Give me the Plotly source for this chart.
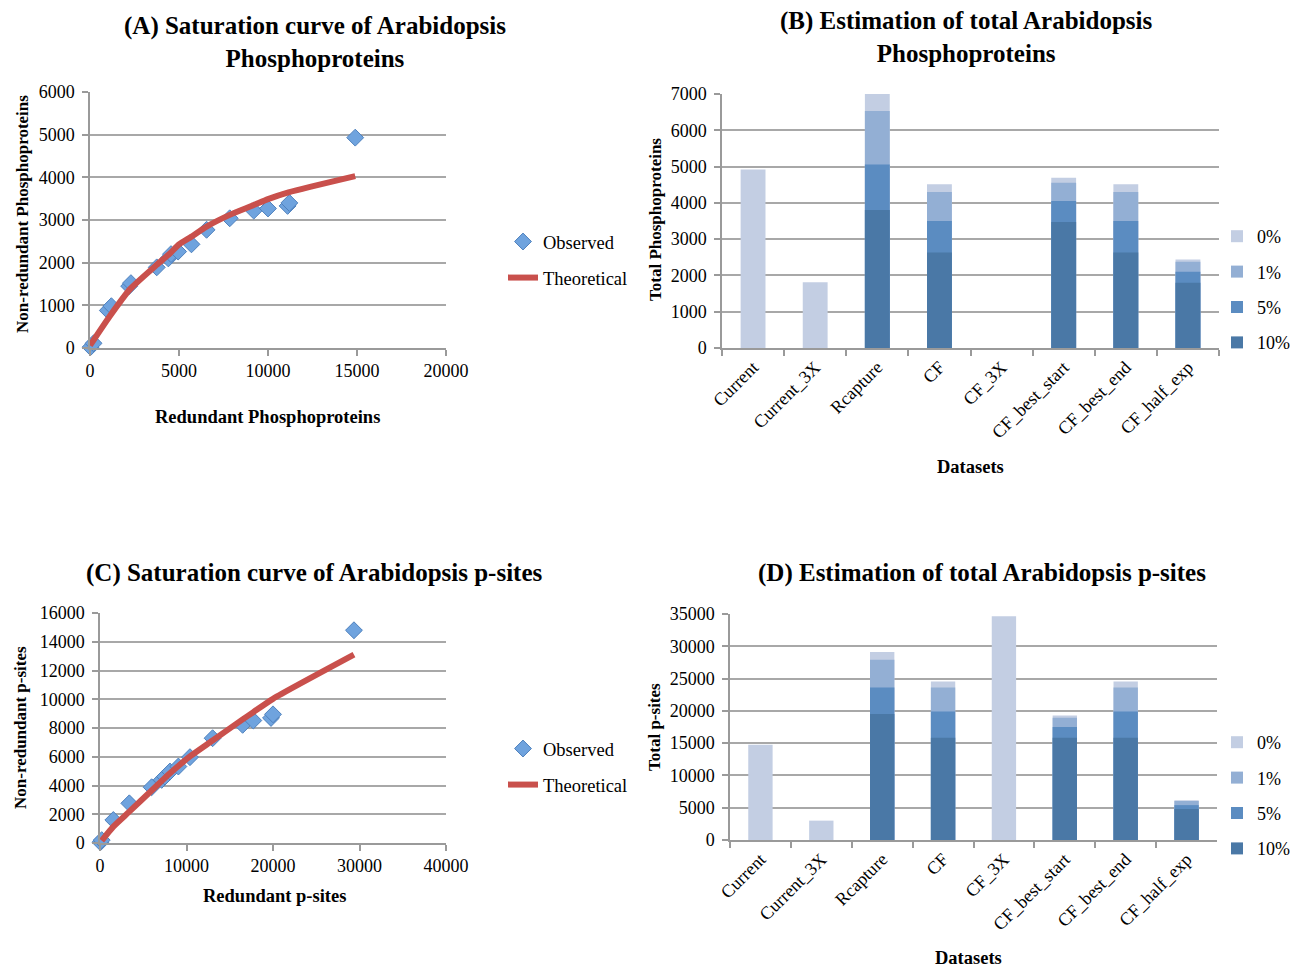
import plotly.graph_objects as go

# The page body adds an 8 px offset; the figure is sized to the remaining area
OFF = 8
W, H = 1301 - OFF, 968 - OFF
FONT = "Liberation Serif"

# ---------------- data ----------------
# (A) Phosphoproteins saturation
obsA_x = [30, 200, 1000, 1200, 2200, 2300, 3750, 4400, 4550, 4950, 5700, 6550, 7850, 9200, 10000, 11100, 11200, 14900]
obsA_y = [20, 110, 880, 980, 1450, 1520, 1890, 2100, 2200, 2260, 2430, 2770, 3040, 3220, 3270, 3330, 3400, 4930]
theoA_x = [0, 1100, 2250, 3750, 4500, 5000, 5700, 6550, 7850, 9200, 10000, 11150, 14900]
theoA_y = [60, 740, 1380, 1950, 2220, 2430, 2610, 2845, 3120, 3350, 3490, 3650, 4030]

# (C) p-sites saturation
obsC_x = [50, 200, 1540, 3390, 5970, 7130, 7510, 8090, 9060, 10400, 13020, 16490, 17720, 19770, 20000, 29360]
obsC_y = [50, 200, 1600, 2760, 3880, 4390, 4620, 4970, 5320, 5970, 7290, 8220, 8520, 8700, 8950, 14800]
theoC_x = [200, 1540, 3390, 5970, 8090, 10400, 13020, 16490, 17720, 20000, 29360]
theoC_y = [160, 1140, 2180, 3650, 4850, 6020, 7130, 8600, 9100, 10030, 13100]

# (B)/(D) categories
datasets = ["Current", "Current_3X", "Rcapture", "CF", "CF_3X", "CF_best_start", "CF_best_end", "CF_half_exp"]
levels = ["0%", "1%", "5%", "10%"]

B_0 = [4920, 1810, 7000, 4510, None, 4690, 4510, 2440]
B_1 = [None, None, 6530, 4300, None, 4555, 4300, 2375]
B_5 = [None, None, 5060, 3500, None, 4050, 3500, 2100]
B_10 = [None, None, 3800, 2630, None, 3470, 2630, 1800]

D_0 = [14750, 3000, 29100, 24550, 34650, 19300, 24550, 6150]
D_1 = [None, None, 27900, 23600, None, 18950, 23600, 6050]
D_5 = [None, None, 23600, 19900, None, 17500, 19900, 5400]
D_10 = [None, None, 19500, 15850, None, 15850, 15850, 4800]

# ---------------- styles ----------------
level_colors = ["#C3CEE3", "#93AFD4", "#5B8CC1", "#4A78A6"]
obs_color = "#6FA3DE"
obs_edge = "#4F81BD"
theo_color = "#C9504C"
grid_col = "#A8A8A8"
axis_col = "#9A9A9A"


def px_x(p):
    return (p - OFF) / W


def px_y(p):
    return 1 - (p - OFF) / H


fig = go.Figure()

# ----- Panel A -----
fig.add_trace(go.Scatter(x=obsA_x, y=obsA_y, mode="markers", name="Observed",
                         marker=dict(symbol="diamond", size=13, color=obs_color,
                                     line=dict(color=obs_edge, width=1)),
                         xaxis="x", yaxis="y", legend="legend", legendgroup="a1",
                         cliponaxis=False))
fig.add_trace(go.Scatter(x=theoA_x, y=theoA_y, mode="lines", name="Theoretical",
                         line=dict(color=theo_color, width=6, shape="spline", smoothing=0.6),
                         xaxis="x", yaxis="y", legend="legend", legendgroup="a2",
                         cliponaxis=False))

# ----- Panel C -----
fig.add_trace(go.Scatter(x=obsC_x, y=obsC_y, mode="markers", name="Observed",
                         marker=dict(symbol="diamond", size=13, color=obs_color,
                                     line=dict(color=obs_edge, width=1)),
                         xaxis="x3", yaxis="y3", legend="legend3", legendgroup="c1",
                         cliponaxis=False))
fig.add_trace(go.Scatter(x=theoC_x, y=theoC_y, mode="lines", name="Theoretical",
                         line=dict(color=theo_color, width=6, shape="spline", smoothing=0.6),
                         xaxis="x3", yaxis="y3", legend="legend3", legendgroup="c2",
                         cliponaxis=False))

# ----- Panel B & D bars (overlaid totals) -----
B_series = [B_0, B_1, B_5, B_10]
D_series = [D_0, D_1, D_5, D_10]
for i, (lab, col) in enumerate(zip(levels, level_colors)):
    fig.add_trace(go.Bar(x=datasets, y=B_series[i], name=lab, marker=dict(color=col, line=dict(width=0)),
                         xaxis="x2", yaxis="y2", legend="legend2", legendgroup="b" + lab))
    fig.add_trace(go.Bar(x=datasets, y=D_series[i], name=lab, marker=dict(color=col, line=dict(width=0)),
                         xaxis="x4", yaxis="y4", legend="legend4", legendgroup="d" + lab))

tickfont = dict(family=FONT, size=18, color="black")


def num_x(domain, anchor, rng, dtick):
    return dict(domain=domain, anchor=anchor, range=rng, dtick=dtick, tickformat="d",
                showgrid=False, zeroline=False, showline=True, linecolor=axis_col, linewidth=1.5,
                ticks="outside", ticklen=6, tickcolor=axis_col, tickwidth=1.5,
                tickfont=tickfont, fixedrange=True)


def num_y(domain, anchor, rng, dtick):
    return dict(domain=domain, anchor=anchor, range=rng, dtick=dtick, tickformat="d",
                showgrid=True, gridcolor=grid_col, gridwidth=1.5, zeroline=False, showline=True,
                linecolor=axis_col, linewidth=1.5, ticks="outside", ticklen=6,
                tickcolor=axis_col, tickwidth=1.5, tickfont=tickfont, ticklabelstandoff=4,
                fixedrange=True)


def cat_x(domain, anchor):
    return dict(domain=domain, anchor=anchor, type="category", showgrid=False, zeroline=False,
                showline=True, linecolor=axis_col, linewidth=1.5, ticks="outside",
                tickson="boundaries", ticklen=6, tickcolor=axis_col, tickwidth=1.5,
                tickangle=-45, tickfont=tickfont, fixedrange=True)


layout = dict(
    width=W, height=H, margin=dict(l=0, r=0, t=0, b=0, autoexpand=False),
    paper_bgcolor="white", plot_bgcolor="white",
    barmode="overlay", bargap=0.6,
    xaxis=num_x([px_x(90), px_x(446)], "y", [0, 20000], 5000),
    yaxis=num_y([px_y(348), px_y(92)], "x", [0, 6000], 1000),
    xaxis2=cat_x([px_x(722), px_x(1219)], "y2"),
    yaxis2=num_y([px_y(348), px_y(94)], "x2", [0, 7000], 1000),
    xaxis3=num_x([px_x(100), px_x(446)], "y3", [0, 40000], 10000),
    yaxis3=num_y([px_y(843), px_y(613)], "x3", [0, 16000], 2000),
    xaxis4=cat_x([px_x(730), px_x(1217)], "y4"),
    yaxis4=num_y([px_y(840), px_y(614)], "x4", [0, 35000], 5000),
    showlegend=True,
)

legfont = dict(family=FONT, size=18.5, color="black")
barlegfont = dict(family=FONT, size=18, color="black")
layout["legend"] = dict(x=px_x(503), y=px_y(223), xanchor="left", yanchor="top", font=legfont,
                        bgcolor="rgba(0,0,0,0)", tracegroupgap=9)
layout["legend3"] = dict(x=px_x(503), y=px_y(730), xanchor="left", yanchor="top", font=legfont,
                         bgcolor="rgba(0,0,0,0)", tracegroupgap=9)
layout["legend2"] = dict(x=px_x(1217), y=px_y(218), xanchor="left", yanchor="top", font=barlegfont,
                         bgcolor="rgba(0,0,0,0)", tracegroupgap=9)
layout["legend4"] = dict(x=px_x(1217), y=px_y(724), xanchor="left", yanchor="top", font=barlegfont,
                         bgcolor="rgba(0,0,0,0)", tracegroupgap=9)

titlefont = dict(family=FONT, size=25, color="black")
axtfont = dict(family=FONT, size=18.5, color="black")
axtfont_v = dict(family=FONT, size=17, color="black")


def ann(text, x, y, font, angle=0):
    return dict(text=text, x=px_x(x), y=px_y(y), xref="paper", yref="paper",
                xanchor="center", yanchor="middle", showarrow=False, font=font, textangle=angle)


layout["annotations"] = [
    ann("<b>(A) Saturation curve of Arabidopsis<br>Phosphoproteins</b>", 315, 42, titlefont),
    ann("<b>(B) Estimation of total Arabidopsis<br>Phosphoproteins</b>", 966, 37, titlefont),
    ann("<b>(C) Saturation curve of Arabidopsis p-sites</b>", 314, 573, titlefont),
    ann("<b>(D) Estimation of total Arabidopsis p-sites</b>", 982, 573, titlefont),
    ann("<b>Non-redundant Phosphoproteins</b>", 22, 214, axtfont_v, -90),
    ann("<b>Redundant Phosphoproteins</b>", 267, 417, axtfont),
    ann("<b>Total Phosphoproteins</b>", 655, 220, axtfont_v, -90),
    ann("<b>Datasets</b>", 970, 467, axtfont),
    ann("<b>Non-redundant p-sites</b>", 20, 728, axtfont_v, -90),
    ann("<b>Redundant p-sites</b>", 274, 896, axtfont),
    ann("<b>Total p-sites</b>", 654, 727, axtfont_v, -90),
    ann("<b>Datasets</b>", 968, 958, axtfont),
]

fig.update_layout(**layout)
fig.write_html("out.html")
